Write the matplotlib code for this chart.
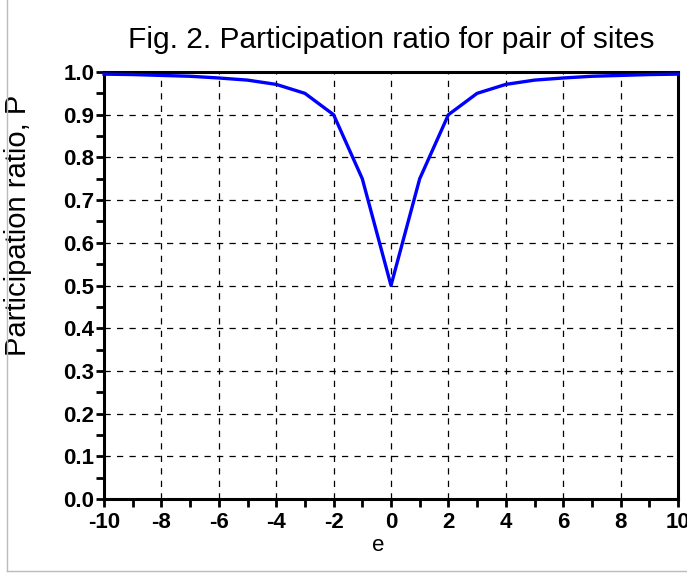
import matplotlib.pyplot as plt
from matplotlib.lines import Line2D
from matplotlib.ticker import MultipleLocator

# participation ratio
e = [-10, -9, -8, -7, -6, -5, -4, -3, -2, -1, 0,
     1, 2, 3, 4, 5, 6, 7, 8, 9, 10]
P = [0.995, 0.994, 0.992, 0.990, 0.986, 0.981, 0.971, 0.950, 0.900, 0.750, 0.500,
     0.750, 0.900, 0.950, 0.971, 0.981, 0.986, 0.990, 0.992, 0.994, 0.995]

xticks = [-10, -8, -6, -4, -2, 0, 2, 4, 6, 8, 10]
yticks = [0.0, 0.1, 0.2, 0.3, 0.4, 0.5, 0.6, 0.7, 0.8, 0.9, 1.0]

plt.rcParams['font.family'] = 'Liberation Sans'

fig = plt.figure(figsize=(6.87, 5.76), dpi=100)
ax = fig.add_axes([104/687., 1 - 499/576., 574/687., 427/576.])

ax.plot(e, P, color='#0000ff', lw=2.4, zorder=3, clip_on=False)

ax.set_xlim(-10, 10)
ax.set_ylim(0, 1)
ax.set_xticks(xticks)
ax.set_yticks(yticks)
ax.set_xticklabels([str(t) for t in xticks], fontweight='bold', fontsize=16)
ax.set_yticklabels(['%.1f' % t for t in yticks], fontweight='bold', fontsize=16)
ax.xaxis.set_minor_locator(MultipleLocator(1))
ax.yaxis.set_minor_locator(MultipleLocator(0.05))
ax.tick_params(which='both', direction='out', width=2, length=6, pad=1)
ax.tick_params(axis='x', pad=3)

for s in ax.spines.values():
    s.set_linewidth(2.2)

for x in xticks[1:-1]:
    ax.axvline(x, color='black', ls=(0, (5, 5)), lw=0.9, zorder=1)
for y in yticks[1:-1]:
    ax.axhline(y, color='black', ls=(0, (5, 5)), lw=0.9, zorder=1)

ax.set_title('Fig. 2. Participation ratio for pair of sites', fontsize=21.5, pad=17)
ax.set_ylabel('Participation ratio, P', fontsize=21)
ax.yaxis.set_label_coords(-0.125, 0.64)
ax.set_xlabel('e', fontsize=16)
ax.xaxis.set_label_coords(0.477, -0.085)

# light frame around the picture
fig.add_artist(Line2D([7/687., 7/687.], [1, 1 - 571/576.], color='#bbbbbb', lw=1))
fig.add_artist(Line2D([7/687., 1], [1 - 571/576., 1 - 571/576.], color='#bbbbbb', lw=1))

fig.savefig('out.png', dpi=100)
